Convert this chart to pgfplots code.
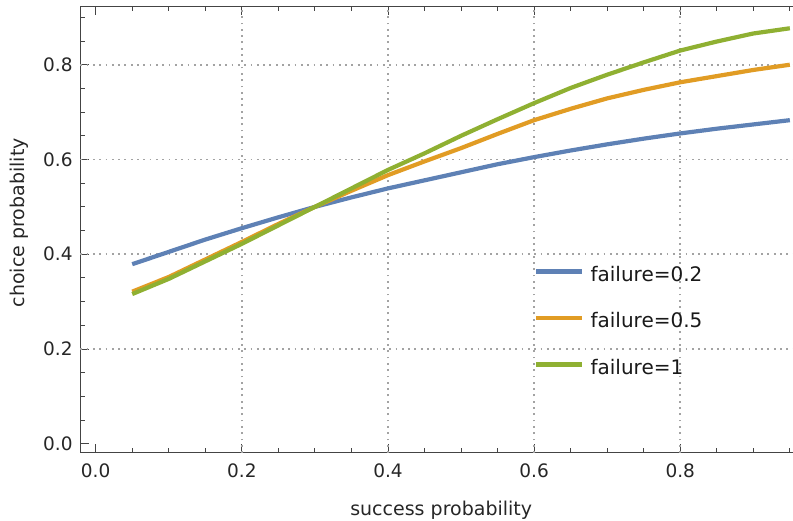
\documentclass[border=0pt]{standalone}
\usepackage{pgfplots}
\pgfplotsset{compat=1.18}
\usepackage{pgfplotstable}
\usepackage{fontspec}
\setmainfont{DejaVu Sans}
\definecolor{mblue}{HTML}{5E81B5}
\definecolor{morange}{HTML}{E19C24}
\definecolor{mgreen}{HTML}{8FB032}
\definecolor{frame}{HTML}{444444}

\pgfplotstableread{
x y
0.05 0.379
0.10 0.405
0.15 0.431
0.20 0.455
0.25 0.478
0.30 0.500
0.35 0.520
0.40 0.539
0.45 0.556
0.50 0.573
0.55 0.590
0.60 0.605
0.65 0.619
0.70 0.632
0.75 0.644
0.80 0.655
0.85 0.665
0.90 0.674
0.95 0.683
}\fA

\pgfplotstableread{
x y
0.05 0.321
0.10 0.352
0.15 0.389
0.20 0.426
0.25 0.464
0.30 0.500
0.35 0.534
0.40 0.567
0.45 0.596
0.50 0.624
0.55 0.654
0.60 0.683
0.65 0.707
0.70 0.729
0.75 0.747
0.80 0.763
0.85 0.776
0.90 0.789
0.95 0.800
}\fB

\pgfplotstableread{
x y
0.05 0.316
0.10 0.348
0.15 0.385
0.20 0.422
0.25 0.461
0.30 0.500
0.35 0.539
0.40 0.578
0.45 0.613
0.50 0.650
0.55 0.685
0.60 0.719
0.65 0.751
0.70 0.779
0.75 0.805
0.80 0.830
0.85 0.849
0.90 0.866
0.95 0.877
}\fC

\begin{document}
\begin{tikzpicture}
\begin{axis}[
  at={(0pt,0pt)}, anchor=south west,
  scale only axis,
  width=712.7pt, height=446.7pt,
  xmin=-0.021, xmax=0.955,
  ymin=-0.0195, ymax=0.924,
  axis line style={draw=frame, line width=1pt},
  tick align=inside,
  xtick pos=both, ytick pos=left,
  xtick={0,0.2,0.4,0.6,0.8},
  xticklabels={0.0,0.2,0.4,0.6,0.8},
  ytick={0,0.2,0.4,0.6,0.8},
  yticklabels={0.0,0.2,0.4,0.6,0.8},
  minor xtick={0.05,0.1,0.15,0.25,0.3,0.35,0.45,0.5,0.55,0.65,0.7,0.75,0.85,0.9,0.95},
  minor ytick={0.05,0.1,0.15,0.25,0.3,0.35,0.45,0.5,0.55,0.65,0.7,0.75,0.85,0.9},
  major tick length=9pt, minor tick length=5pt,
  every tick/.style={draw=frame, line width=0.9pt},
  /pgf/number format/assume math mode=true,
  xticklabel style={font=\fontsize{18.5}{20}\selectfont, text=black!85, inner sep=0pt, yshift=-11pt},
  yticklabel style={font=\fontsize{18.5}{20}\selectfont, text=black!85, inner sep=0pt, xshift=-7.6pt},
  extra x ticks={0.2,0.4,0.6,0.8},
  extra x tick labels={},
  extra y ticks={0.2,0.4,0.6,0.8},
  extra y tick labels={},
  extra tick style={grid=major, major tick length=0pt},
  major grid style={draw=black!36, line width=1.8pt, dash pattern=on 1.8pt off 4.5pt},
  xlabel={success probability},
  ylabel={choice probability},
  xlabel style={font=\fontsize{19}{22}\selectfont, text=black!85, at={(axis description cs:0.506,-0.139)}, anchor=base},
  ylabel style={font=\fontsize{19}{22}\selectfont, text=black!85, at={(axis description cs:-0.079,0.515)}, anchor=base},
  legend style={at={(rel axis cs:0.6366,0.2953)}, anchor=west, draw=none, fill=none,
    inner sep=0pt, outer sep=0pt, row sep=29.8pt,
    font=\fontsize{20}{22}\selectfont, text=black!90,
    nodes={inner sep=0pt},
    /tikz/every odd column/.style={column sep=6pt}},
  legend cell align=left,
  legend image code/.code={\draw[#1, line width=4.2pt] (0pt,3pt) -- (46pt,3pt);},
  every axis plot/.append style={line width=4.2pt, line join=round},
]
\addplot[mblue] table[x=x,y=y] {\fA};
\addlegendentry{failure=0.2}
\addplot[morange] table[x=x,y=y] {\fB};
\addlegendentry{failure=0.5}
\addplot[mgreen] table[x=x,y=y] {\fC};
\addlegendentry{failure=1}
\end{axis}
\pgfresetboundingbox
\useasboundingbox (-80.3pt,-67.3pt) rectangle (712.2pt,452.7pt);
\end{tikzpicture}
\end{document}
